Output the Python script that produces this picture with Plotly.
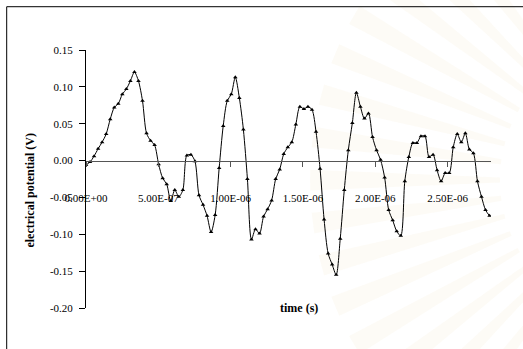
import math
import plotly.graph_objects as go

# Sampled waveform: electrical potential (V), one reading per sample interval
sample_interval_s = 2.79e-8
potential_v = [
    -0.006, -0.002, 0.006, 0.016, 0.025, 0.036, 0.056, 0.072, 0.077, 0.090,
    0.097, 0.108, 0.120, 0.108, 0.081, 0.037, 0.027, 0.021, -0.005, -0.024,
    -0.032, -0.055, -0.040, -0.049, -0.040, 0.007, 0.008, -0.001, -0.047, -0.060,
    -0.075, -0.097, -0.074, -0.010, 0.047, 0.081, 0.090, 0.113, 0.085, 0.042,
    -0.025, -0.107, -0.093, -0.099, -0.076, -0.066, -0.054, -0.025, -0.012, 0.009,
    0.018, 0.025, 0.049, 0.073, 0.070, 0.073, 0.069, 0.039, -0.011, -0.080,
    -0.126, -0.141, -0.155, -0.106, -0.040, 0.014, 0.051, 0.092, 0.073, 0.057,
    0.064, 0.032, 0.014, 0.001, -0.023, -0.067, -0.081, -0.096, -0.102, -0.028,
    0.005, 0.024, 0.024, 0.033, 0.033, 0.005, 0.008, -0.013, -0.028, -0.017,
    -0.017, 0.018, 0.036, 0.025, 0.037, 0.015, 0.010, -0.028, -0.049, -0.067,
    -0.075,
]
time_s = [i * sample_interval_s for i in range(len(potential_v))]

x_tick_values = [0.0, 5e-7, 1e-6, 1.5e-6, 2e-6, 2.5e-6]
x_tick_labels = ["0.00E+00", "5.00E-07", "1.00E-06", "1.50E-06", "2.00E-06", "2.50E-06"]
y_tick_values = [-0.20, -0.15, -0.10, -0.05, 0.00, 0.05, 0.10, 0.15]
y_tick_labels = ["-0.20", "-0.15", "-0.10", "-0.05", "0.00", "0.05", "0.10", "0.15"]

x_title = "time (s)"
y_title = "electrical potential (V)"

serif = "Liberation Serif, Times New Roman, serif"

W, H = 523, 349
M_L, M_R, M_T, M_B = 86, 32, 50, 41
PW, PH = W - M_L - M_R, H - M_T - M_B


def px_to_paper(px, py):
    return (px - M_L) / PW, (H - M_B - py) / PH


# faint sunburst emblem in the background on the right-hand side
emblem_shapes = []
cx, cy = 640.0, 180.0
for k in range(-12, 13):
    ang = math.pi + k * math.radians(7.5)
    r0, r1 = 140.0, 330.0
    h0, h1 = math.radians(1.0), math.radians(1.8)
    pts = []
    for r, a in ((r0, ang - h0), (r1, ang - h1), (r1, ang + h1), (r0, ang + h0)):
        pts.append(px_to_paper(cx + r * math.cos(a), cy - r * math.sin(a)))
    path = "M " + " L ".join(f"{x:.4f},{y:.4f}" for x, y in pts) + " Z"
    emblem_shapes.append(dict(type="path", xref="paper", yref="paper", path=path,
                              fillcolor="rgba(236,214,150,0.09)",
                              line=dict(width=0), layer="below"))

fig = go.Figure()
fig.add_trace(go.Scatter(
    x=time_s,
    y=potential_v,
    mode="lines+markers",
    line=dict(color="black", width=1, shape="spline", smoothing=0.8),
    marker=dict(symbol="triangle-up", size=4, color="black"),
    showlegend=False,
    hoverinfo="skip",
))

y_min, y_max = -0.20, 0.15
fx0, fy1 = px_to_paper(6.7, 6.7)
fig.update_layout(
    width=W,
    height=H,
    margin=dict(l=M_L, r=M_R, t=M_T, b=M_B),
    paper_bgcolor="white",
    plot_bgcolor="rgba(0,0,0,0)",
    font=dict(family=serif, size=11, color="black"),
    xaxis=dict(
        range=[0, 2.8e-6],
        anchor="free",
        position=(0 - y_min) / (y_max - y_min),
        showline=True,
        linecolor="#555555",
        linewidth=1,
        ticks="outside",
        ticklen=5,
        tickcolor="#555555",
        tickvals=x_tick_values,
        ticktext=x_tick_labels,
        ticklabelstandoff=22,
        showgrid=False,
        zeroline=False,
        tickfont=dict(family=serif, size=11, color="black"),
    ),
    yaxis=dict(
        range=[y_min, y_max],
        showline=True,
        linecolor="black",
        linewidth=1,
        ticks="outside",
        ticklen=6,
        tickcolor="black",
        tickvals=y_tick_values,
        ticktext=y_tick_labels,
        ticklabelstandoff=4,
        showgrid=False,
        zeroline=False,
        tickfont=dict(family=serif, size=11, color="black"),
    ),
    annotations=[
        dict(text="<b>" + y_title + "</b>", xref="paper", yref="paper",
             x=-0.137, y=0.457, xanchor="center", yanchor="middle",
             textangle=-90, showarrow=False,
             font=dict(family=serif, size=12, color="black")),
        dict(text="<b>" + x_title + "</b>", xref="paper", yref="paper",
             x=0.526, y=0.0, xanchor="center", yanchor="middle",
             showarrow=False,
             font=dict(family=serif, size=12, color="black")),
    ],
    shapes=emblem_shapes + [
        # chart frame (open towards the right and bottom edges)
        dict(type="path", xref="paper", yref="paper",
             path=f"M {fx0:.4f},-1 L {fx0:.4f},{fy1:.4f} L 2,{fy1:.4f}",
             line=dict(color="black", width=1), layer="below"),
    ],
)

fig.write_html("out.html")
